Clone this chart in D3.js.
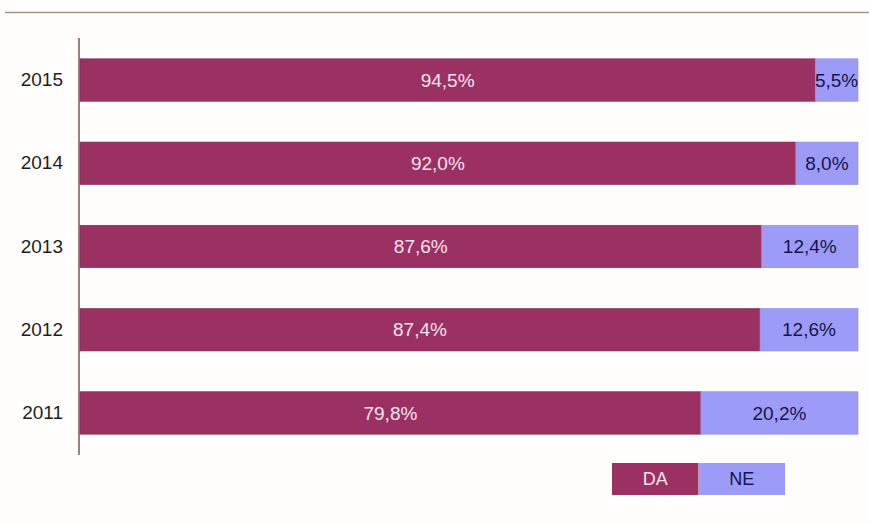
<!DOCTYPE html>
<html>
<head>
<meta charset="utf-8">
<script src="https://cdn.jsdelivr.net/npm/d3@7"></script>
<style>
  body { margin: 0; background: #fffefc; }
  svg { display: block; font-family: "Liberation Sans", Arial, sans-serif; }
</style>
</head>
<body>
<div id="chart"></div>
<script>
// data
var years = ["2015", "2014", "2013", "2012", "2011"];
var daValues = [94.5, 92.0, 87.6, 87.4, 79.8];
var neValues = [5.5, 8.0, 12.4, 12.6, 20.2];
var seriesNames = ["DA", "NE"];

var colors = { DA: "#9b3162", NE: "#9c9cf8" };

var width = 869, height = 524;
var margin = { top: 38, right: 11, bottom: 69, left: 80 };

var svg = d3.select("#chart").append("svg")
    .attr("width", width)
    .attr("height", height);

// top rule
svg.append("line")
    .attr("x1", 5).attr("x2", width)
    .attr("y1", 12.5).attr("y2", 12.5)
    .attr("stroke", "#a8917f")
    .attr("stroke-width", 1.5);

var rows = years.map(function(y, i) {
    return { year: y, DA: daValues[i], NE: neValues[i] };
});

var x = d3.scaleLinear()
    .domain([0, 100])
    .range([margin.left, width - margin.right]);

var y = d3.scaleBand()
    .domain(years)
    .range([margin.top, height - margin.bottom])
    .paddingInner(0.49)
    .paddingOuter(0.25);

var stack = d3.stack().keys(seriesNames)(rows);

var fmt = function(v) { return v.toFixed(1).replace(".", ",") + "%"; };

var g = svg.append("g");

stack.forEach(function(layer) {
    var key = layer.key;
    g.selectAll(".bar-" + key)
        .data(layer)
        .enter().append("rect")
        .attr("x", function(d) { return x(d[0]); })
        .attr("y", function(d) { return y(d.data.year); })
        .attr("width", function(d) { return x(d[1]) - x(d[0]); })
        .attr("height", y.bandwidth())
        .attr("fill", colors[key])
        .attr("stroke", key == "DA" ? "#7e2a50" : "#8c8ce0")
        .attr("stroke-width", 0.6);

    g.selectAll(".lbl-" + key)
        .data(layer)
        .enter().append("text")
        .attr("x", function(d) { return (x(d[0]) + x(d[1])) / 2; })
        .attr("y", function(d) { return y(d.data.year) + y.bandwidth() / 2; })
        .attr("dy", "0.35em")
        .attr("text-anchor", "middle")
        .attr("font-size", 19)
        .attr("fill", key == "DA" ? "#f6e4ee" : "#15154a")
        .text(function(d) { return fmt(d.data[key]); });
});

// y axis
var yAxis = d3.axisLeft(y).tickSize(0).tickPadding(16);
var ax = svg.append("g")
    .attr("transform", "translate(" + (margin.left - 1) + ",0)")
    .call(yAxis);
ax.select(".domain").remove();
ax.selectAll("text")
    .attr("font-size", 19)
    .attr("font-family", "Liberation Sans, Arial, sans-serif")
    .attr("fill", "#1e1e1e");

svg.append("line")
    .attr("x1", margin.left - 1).attr("x2", margin.left - 1)
    .attr("y1", margin.top).attr("y2", 455)
    .attr("stroke", "#7a5a48")
    .attr("stroke-width", 1.5);

// legend
var legX = d3.scaleBand().domain(seriesNames).range([612, 785]);
var leg = svg.append("g");
leg.selectAll("rect")
    .data(seriesNames)
    .enter().append("rect")
    .attr("x", function(d) { return legX(d); })
    .attr("y", 463)
    .attr("width", legX.bandwidth())
    .attr("height", 32)
    .attr("fill", function(d) { return colors[d]; });
leg.selectAll("text")
    .data(seriesNames)
    .enter().append("text")
    .attr("x", function(d) { return legX(d) + legX.bandwidth() / 2; })
    .attr("y", 479)
    .attr("dy", "0.35em")
    .attr("text-anchor", "middle")
    .attr("font-size", 18)
    .attr("fill", function(d) { return d == "DA" ? "#f6e4ee" : "#15154a"; })
    .text(function(d) { return d; });
</script>
</body>
</html>
